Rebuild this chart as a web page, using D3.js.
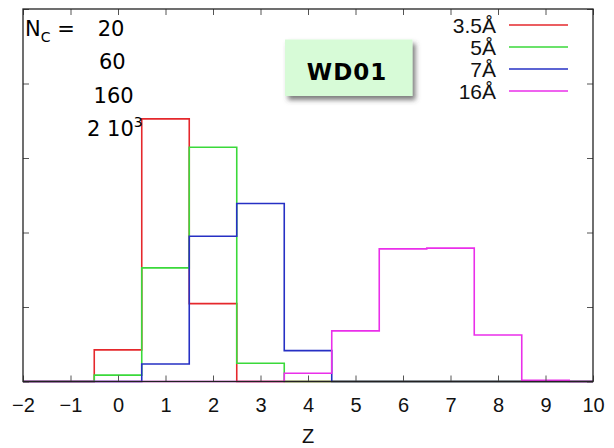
<!DOCTYPE html>
<html lang="en">
<head>
<meta charset="utf-8">
<title>WD01 histogram</title>
<script src="https://d3js.org/d3.v7.min.js"></script>
<style>
  html, body { margin: 0; padding: 0; background: #fff; }
  svg { display: block; }
</style>
</head>
<body>
<script>
// bin centres (Z), one bin per unit
var zBins = [-2, -1, 0, 1, 2, 3, 4, 5, 6, 7, 8, 9, 10];

// fraction of clusters per Z bin
var red35  = [0, 0, 0.085, 0.705, 0.209, 0, 0, 0, 0, 0, 0, 0, 0];
var green5 = [0, 0, 0.017, 0.305, 0.629, 0.049, 0, 0, 0, 0, 0, 0, 0];
var blue7  = [0, 0, 0, 0.047, 0.390, 0.478, 0.083, 0, 0, 0, 0, 0, 0];
var mag16  = [0, 0, 0, 0, 0, 0, 0.022, 0.136, 0.356, 0.358, 0.125, 0.003, 0];

var seriesNames = ["3.5Å", "5Å", "7Å", "16Å"];
var seriesColors = ["#e5282c", "#3ad93a", "#2630c4", "#ea2fea"];
var seriesValues = [red35, green5, blue7, mag16];

var xTicks = [-2, -1, 0, 1, 2, 3, 4, 5, 6, 7, 8, 9, 10];
var yTicks = [0, 0.2, 0.4, 0.6, 0.8, 1];

var ncLabels = ["20", "60", "160", "2 10"];

var W = 614, H = 448;
var pLeft = 23, pRight = 593, pTop = 9, pBottom = 381.5;

var svg = d3.select("body").append("svg")
    .attr("width", W)
    .attr("height", H);

var x = d3.scaleLinear().domain([-2, 10]).range([pLeft, pRight]);
var y = d3.scaleLinear().domain([0, 1]).range([pBottom, pTop]);

var defs = svg.append("defs");
defs.append("clipPath").attr("id", "plotclip")
  .append("rect")
    .attr("x", pLeft).attr("y", pTop - 2)
    .attr("width", pRight - pLeft).attr("height", pBottom - pTop + 4);

var shadow = defs.append("filter").attr("id", "shadow")
    .attr("x", "-20%").attr("y", "-20%").attr("width", "140%").attr("height", "150%");
shadow.append("feDropShadow")
    .attr("dx", 3).attr("dy", 4).attr("stdDeviation", 2.5)
    .attr("flood-color", "#444").attr("flood-opacity", 0.7);

// step lines, each bin drawn from its left edge
var step = d3.line()
    .x(function(d) { return x(d[0]); })
    .y(function(d) { return y(d[1]); })
    .curve(d3.curveStepAfter);

var plot = svg.append("g").attr("clip-path", "url(#plotclip)");

seriesValues.forEach(function(vals, i) {
  var pts = zBins.map(function(z, j) { return [z - 0.5, vals[j]]; });
  pts.push([zBins[zBins.length - 1] + 0.5, vals[vals.length - 1]]);
  plot.append("path")
      .attr("d", step(pts))
      .attr("fill", "none")
      .attr("stroke", seriesColors[i])
      .attr("stroke-width", 1.6);
});

// axes: ticks on all four sides, labels only at the bottom
var tickCol = "#555";
var fontAxis = "'Liberation Sans', Arial, Helvetica, sans-serif";

var xb = svg.append("g").attr("transform", "translate(0," + pBottom + ")")
    .call(d3.axisBottom(x).tickValues(xTicks).tickSizeInner(-6).tickSizeOuter(0)
      .tickPadding(16).tickFormat(d3.format("d")));
var xt = svg.append("g").attr("transform", "translate(0," + pTop + ")")
    .call(d3.axisTop(x).tickValues(xTicks).tickSizeInner(-6).tickSizeOuter(0).tickFormat(""));
var yl = svg.append("g").attr("transform", "translate(" + pLeft + ",0)")
    .call(d3.axisLeft(y).tickValues(yTicks).tickSizeInner(-6).tickSizeOuter(0).tickFormat(""));
var yr = svg.append("g").attr("transform", "translate(" + pRight + ",0)")
    .call(d3.axisRight(y).tickValues(yTicks).tickSizeInner(-6).tickSizeOuter(0).tickFormat(""));

[xb, xt, yl, yr].forEach(function(g) {
  g.select(".domain").remove();
  g.selectAll(".tick line").attr("stroke", tickCol).attr("stroke-width", 1);
});
xb.selectAll(".tick text")
    .attr("font-family", fontAxis)
    .attr("font-size", 20)
    .attr("fill", "#111");

// frame
svg.append("rect")
    .attr("x", pLeft).attr("y", pTop)
    .attr("width", pRight - pLeft).attr("height", pBottom - pTop)
    .attr("fill", "none")
    .attr("stroke", "#222")
    .attr("stroke-width", 1.3);

svg.append("text")
    .attr("x", x(4)).attr("y", 443)
    .attr("text-anchor", "middle")
    .attr("font-family", fontAxis)
    .attr("font-size", 20)
    .attr("fill", "#111")
    .text("Z");

// legend
var leg = svg.append("g");
seriesNames.forEach(function(name, i) {
  var by = 33 + i * 22;
  leg.append("text")
      .attr("x", 496).attr("y", by)
      .attr("text-anchor", "end")
      .attr("font-family", fontAxis)
      .attr("font-size", 21)
      .attr("fill", "#111")
      .text(name);
  leg.append("line")
      .attr("x1", 509).attr("x2", 568)
      .attr("y1", by - 8).attr("y2", by - 8)
      .attr("stroke", seriesColors[i])
      .attr("stroke-width", 1.6);
});

// N_C annotation
var fontNote = "'DejaVu Sans', sans-serif";
var nc = svg.append("text")
    .attr("x", 25).attr("y", 36)
    .attr("font-family", fontNote)
    .attr("font-size", 21)
    .attr("fill", "#000");
nc.append("tspan").text("N");
nc.append("tspan").attr("dy", 6).attr("font-size", 14).text("C");
nc.append("tspan").attr("dy", -6).text(" =");

ncLabels.forEach(function(t, i) {
  var tx = svg.append("text")
      .attr("x", 111 + i * 1.3).attr("y", 36 + i * 33.3)
      .attr("text-anchor", "middle")
      .attr("font-family", fontNote)
      .attr("font-size", 21)
      .attr("fill", "#000");
  tx.append("tspan").text(t);
  if (i === ncLabels.length - 1) {
    tx.append("tspan").attr("dy", -9).attr("font-size", 14).text("3");
  }
});

// WD01 box
svg.append("rect")
    .attr("x", 285).attr("y", 39.5)
    .attr("width", 127.5).attr("height", 56.5)
    .attr("fill", "#d7fbd7")
    .attr("filter", "url(#shadow)");
svg.append("text")
    .attr("x", 347).attr("y", 79.5)
    .attr("text-anchor", "middle")
    .attr("font-family", fontNote)
    .attr("font-weight", "bold")
    .attr("font-size", 23)
    .attr("letter-spacing", 1)
    .attr("fill", "#000")
    .text("WD01");
</script>
</body>
</html>
